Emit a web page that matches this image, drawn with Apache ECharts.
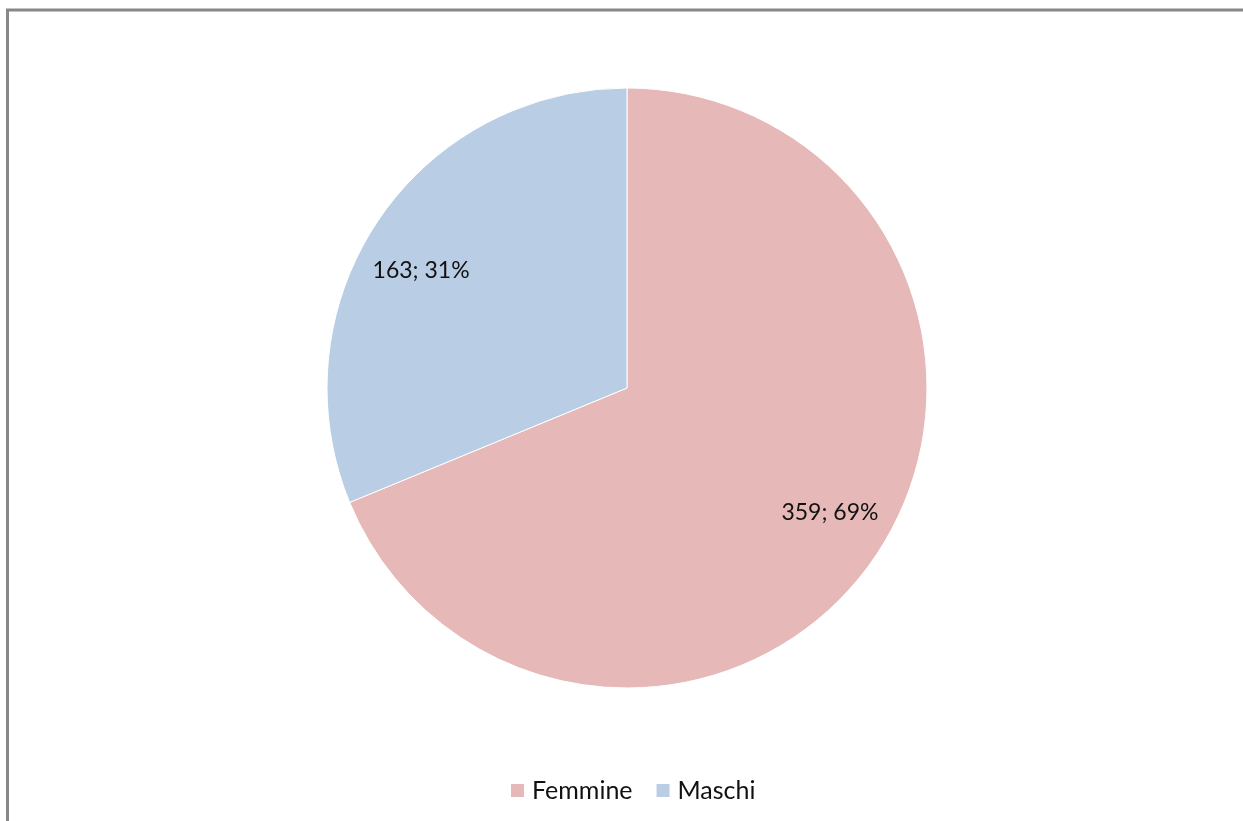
<!DOCTYPE html>
<html>
<head>
<meta charset="utf-8">
<style>
  html, body { margin: 0; padding: 0; background: #fff; }
  #chart { width: 1243px; height: 821px; }
</style>
<script src="https://cdn.jsdelivr.net/npm/echarts@6/dist/echarts.min.js"></script>
</head>
<body>
<div id="chart"></div>
<script>
// Gender breakdown
const categories = ['Femmine', 'Maschi'];
const counts = [359, 163];
const colors = ['#E6B9B8', '#B9CDE5'];

const chart = echarts.init(document.getElementById('chart'));
const FONT = 'Lato, "Open Sans", sans-serif';

// small nudges so the value labels sit like the original layout
const labelOffsets = { Femmine: [1, -11], Maschi: [-4, 18] };

const pieData = categories.map((name, i) => ({
  name: name,
  value: counts[i],
  itemStyle: { color: colors[i] }
}));

chart.setOption({
  animation: false,
  graphic: [{
    type: 'rect',
    shape: { x: 7.5, y: 10, width: 1400, height: 1000 },
    style: { fill: 'none', stroke: '#888888', lineWidth: 3 },
    silent: true
  }],
  legend: {
    data: categories,
    left: 504,
    top: 773,
    itemWidth: 15,
    itemHeight: 15,
    itemGap: 22,
    icon: 'rect',
    textStyle: { fontFamily: FONT, fontSize: 25, color: '#111111', padding: [0, 0, 0, 2] }
  },
  series: [
    {
      type: 'pie',
      center: [627, 388],
      radius: 300,
      startAngle: 90,
      clockwise: true,
      data: pieData,
      label: { show: false },
      labelLine: { show: false },
      itemStyle: { borderColor: '#ffffff', borderWidth: 1 },
      emphasis: { disabled: true }
    },
    {
      // label-only ring, keeps value labels near the outer part of each slice
      type: 'pie',
      center: [627, 388],
      radius: [180, 300],
      startAngle: 90,
      clockwise: true,
      silent: true,
      data: pieData.map(d => ({
        name: d.name,
        value: d.value,
        label: { offset: labelOffsets[d.name] }
      })),
      itemStyle: { color: 'rgba(0,0,0,0)' },
      label: {
        show: true,
        position: 'inside',
        fontFamily: FONT,
        fontSize: 23,
        color: '#111111',
        formatter: p => p.value + '; ' + Math.round(p.percent) + '%'
      },
      labelLine: { show: false },
      emphasis: { disabled: true }
    }
  ]
});
</script>
</body>
</html>
